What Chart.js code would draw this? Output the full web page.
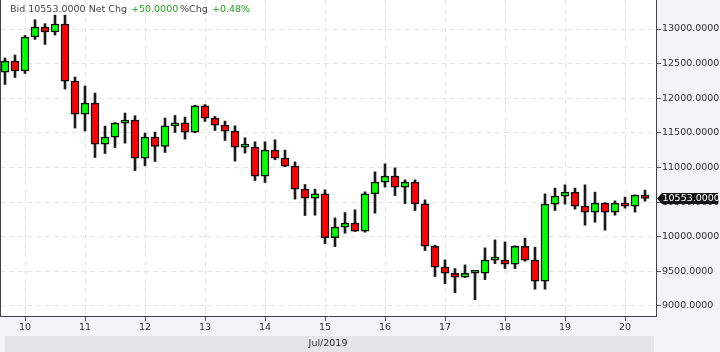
<!DOCTYPE html>
<html><head><meta charset="utf-8">
<script src="https://cdn.jsdelivr.net/npm/chart.js@4.4.1/dist/chart.umd.min.js"></script>
<style>html,body{margin:0;padding:0;background:#f3f4f6;}#wrap{width:720px;height:352px;position:relative;}</style>
</head><body><div id="wrap"><canvas id="c" width="720" height="352"></canvas></div>
<script>
// 4-hour candles, Jul 9 16:00 .. Jul 20 08:00
const times = [
 '07/09 16:00','07/09 20:00',
 '07/10 00:00','07/10 04:00','07/10 08:00','07/10 12:00','07/10 16:00','07/10 20:00',
 '07/11 00:00','07/11 04:00','07/11 08:00','07/11 12:00','07/11 16:00','07/11 20:00',
 '07/12 00:00','07/12 04:00','07/12 08:00','07/12 12:00','07/12 16:00','07/12 20:00',
 '07/13 00:00','07/13 04:00','07/13 08:00','07/13 12:00','07/13 16:00','07/13 20:00',
 '07/14 00:00','07/14 04:00','07/14 08:00','07/14 12:00','07/14 16:00','07/14 20:00',
 '07/15 00:00','07/15 04:00','07/15 08:00','07/15 12:00','07/15 16:00','07/15 20:00',
 '07/16 00:00','07/16 04:00','07/16 08:00','07/16 12:00','07/16 16:00','07/16 20:00',
 '07/17 00:00','07/17 04:00','07/17 08:00','07/17 12:00','07/17 16:00','07/17 20:00',
 '07/18 00:00','07/18 04:00','07/18 08:00','07/18 12:00','07/18 16:00','07/18 20:00',
 '07/19 00:00','07/19 04:00','07/19 08:00','07/19 12:00','07/19 16:00','07/19 20:00',
 '07/20 00:00','07/20 04:00','07/20 08:00'
];
const open  = [12378,12537,12393,12884,13029,12957,13072,12248,11771,11930,11338,11439,11641,11685,11135,11439,11303,11602,11646,11511,11891,11714,11612,11526,11294,11294,10875,11251,11135,11020,10687,10557,10619,9988,10138,10196,10080,10619,10788,10875,10716,10788,10475,9863,9560,9473,9415,9473,9473,9661,9661,9603,9863,9661,9357,10470,10586,10644,10441,10355,10485,10355,10485,10441,10600];
const high  = [12581,12624,12907,13134,13077,13200,13200,12306,12176,12075,11598,11650,11786,11747,11497,11511,11714,11751,11728,11900,11910,11737,11670,11602,11429,11371,11371,11400,11251,11082,10754,10687,10677,10272,10349,10388,10648,10937,11053,10995,10822,10822,10533,9878,9665,9540,9593,9506,9839,9954,9925,9870,9979,9849,10619,10702,10749,10702,10749,10644,10490,10518,10572,10605,10673];
const low   = [12199,12300,12358,12850,12777,12913,12133,11569,11526,11144,11202,11289,11352,10956,11024,11086,11216,11505,11410,11500,11665,11534,11390,11092,11208,10812,10783,11111,11010,10543,10306,10311,9901,9857,10051,10075,10066,10340,10716,10595,10479,10378,9800,9424,9323,9193,9410,9091,9381,9612,9540,9540,9646,9242,9242,10378,10470,10398,10167,10210,10095,10311,10413,10355,10514];
const close = [12537,12393,12884,13029,12957,13072,12248,11771,11930,11338,11439,11641,11685,11135,11439,11303,11602,11646,11511,11891,11714,11612,11526,11294,11294,10875,11251,11135,11020,10687,10557,10619,9988,10138,10196,10080,10619,10788,10875,10716,10788,10475,9863,9560,9473,9415,9473,9473,9661,9661,9603,9863,9661,9357,10470,10586,10644,10441,10355,10485,10355,10485,10441,10600,10553];
const yTicks = [9000,9500,10000,10500,11000,11500,12000,12500,13000];
const monthLabel = 'Jul/2019';
const bidText = '10553.0000';
const netChgText = '+50.0000';
const pctChgText = '+0.48%';
const lastPrice = 10553;

const FONT = "'DejaVu Sans', sans-serif";
Chart.defaults.font.family = FONT;

const dayTickIdx = times.map((t,i)=>t.endsWith('00:00') ? i : -1).filter(i=>i>=0);
const wicks = times.map((t,i)=>({x:i, y:[low[i], high[i]]}));
const bodies = times.map((t,i)=>({x:i, y:[open[i], close[i]]}));
const bodyColors = times.map((t,i)=> close[i] >= open[i] ? '#00ff00' : '#ff0000');

const bgPlugin = {
  id:'bg',
  beforeDraw(chart){
    const {ctx, chartArea:a} = chart;
    ctx.save();
    ctx.fillStyle = '#f3f4f6';
    ctx.fillRect(0,0,chart.width,chart.height);
    ctx.fillStyle = '#ffffff';
    ctx.fillRect(a.left,a.top,a.right-a.left,a.bottom-a.top);
    ctx.fillStyle = '#e4e5e7';
    ctx.fillRect(a.left+5, a.bottom+20, a.right-a.left-7, chart.height-(a.bottom+20));
    ctx.fillStyle = '#333';
    ctx.font = "9.5px " + FONT;
    ctx.textAlign = 'center'; ctx.textBaseline = 'middle';
    ctx.fillText(monthLabel, (a.left+a.right)/2, a.bottom+28);
    ctx.restore();
  },
  afterDraw(chart){
    const {ctx, chartArea:a, scales} = chart;
    ctx.save();
    ctx.strokeStyle = '#444'; ctx.lineWidth = 1;
    ctx.beginPath(); ctx.moveTo(a.left+0.5, a.top); ctx.lineTo(a.left+0.5, a.bottom); ctx.stroke();
    // header
    ctx.font = "9.5px " + FONT; ctx.textBaseline = 'middle'; ctx.textAlign='left';
    ctx.fillStyle = '#444';
    ctx.fillText('Bid ' + bidText + ' Net Chg', 10, 10);
    ctx.fillStyle = '#22a022';
    ctx.fillText(netChgText, 131, 10);
    ctx.fillStyle = '#444';
    ctx.fillText('%Chg', 180, 10);
    ctx.fillStyle = '#22a022';
    ctx.fillText(pctChgText, 212, 10);
    // price tag
    const y = scales.y.getPixelForValue(lastPrice);
    const x0 = a.right + 1;
    ctx.fillStyle = '#141414';
    ctx.beginPath();
    ctx.moveTo(x0, y);
    ctx.lineTo(x0+5, y-5.5);
    ctx.lineTo(chart.width-2, y-5.5);
    ctx.lineTo(chart.width-2, y+5.5);
    ctx.lineTo(x0+5, y+5.5);
    ctx.closePath(); ctx.fill();
    ctx.fillStyle = '#ffffff';
    ctx.fillText(lastPrice.toFixed(4), x0+5.5, y+0.5);
    ctx.restore();
  }
};

new Chart(document.getElementById('c'), {
  type:'bar',
  data:{
    datasets:[
      {data:wicks, backgroundColor:'#1a1a1a', borderWidth:0, barThickness:2, grouped:false, order:2},
      {data:bodies, backgroundColor:bodyColors, borderColor:'#111', borderWidth:1.5, borderSkipped:false, barThickness:8, minBarLength:3, grouped:false, order:1}
    ]
  },
  plugins:[bgPlugin],
  options:{
    responsive:false, animation:false, devicePixelRatio:1,
    layout:{padding:0},
    plugins:{legend:{display:false}, tooltip:{enabled:false}, title:{display:false}},
    scales:{
      x:{
        type:'linear', position:'bottom', min:-0.5, max:65.1, offset:false,
        afterBuildTicks: s => { s.ticks = dayTickIdx.map(v=>({value:v})); },
        afterFit: s => { s.height = 36; s.paddingLeft = 0; s.paddingRight = 0; },
        grid:{offset:false, color:'#e4e4e4', tickColor:'#555', tickLength:5, lineWidth:1},
        border:{color:'#444', width:1, dash:[5,4]},
        ticks:{callback:(v)=> times[v] ? String(parseInt(times[v].slice(3,5),10)) : '', color:'#333', font:{size:9.5}, padding:1, maxRotation:0, autoSkip:false}
      },
      y:{
        type:'linear', position:'right', min:8855, max:13419,
        afterBuildTicks: s => { s.ticks = yTicks.map(v=>({value:v})); },
        afterFit: s => { s.width = 64; s.paddingTop = 0; s.paddingBottom = 0; },
        grid:{color:'#e4e4e4', tickColor:'#555', tickLength:5, lineWidth:1},
        border:{color:'#444', width:1, dash:[5,4]},
        ticks:{callback:(v)=> Number(v).toFixed(4), color:'#333', font:{size:9.5}, padding:1}
      }
    }
  }
});
</script></body></html>
